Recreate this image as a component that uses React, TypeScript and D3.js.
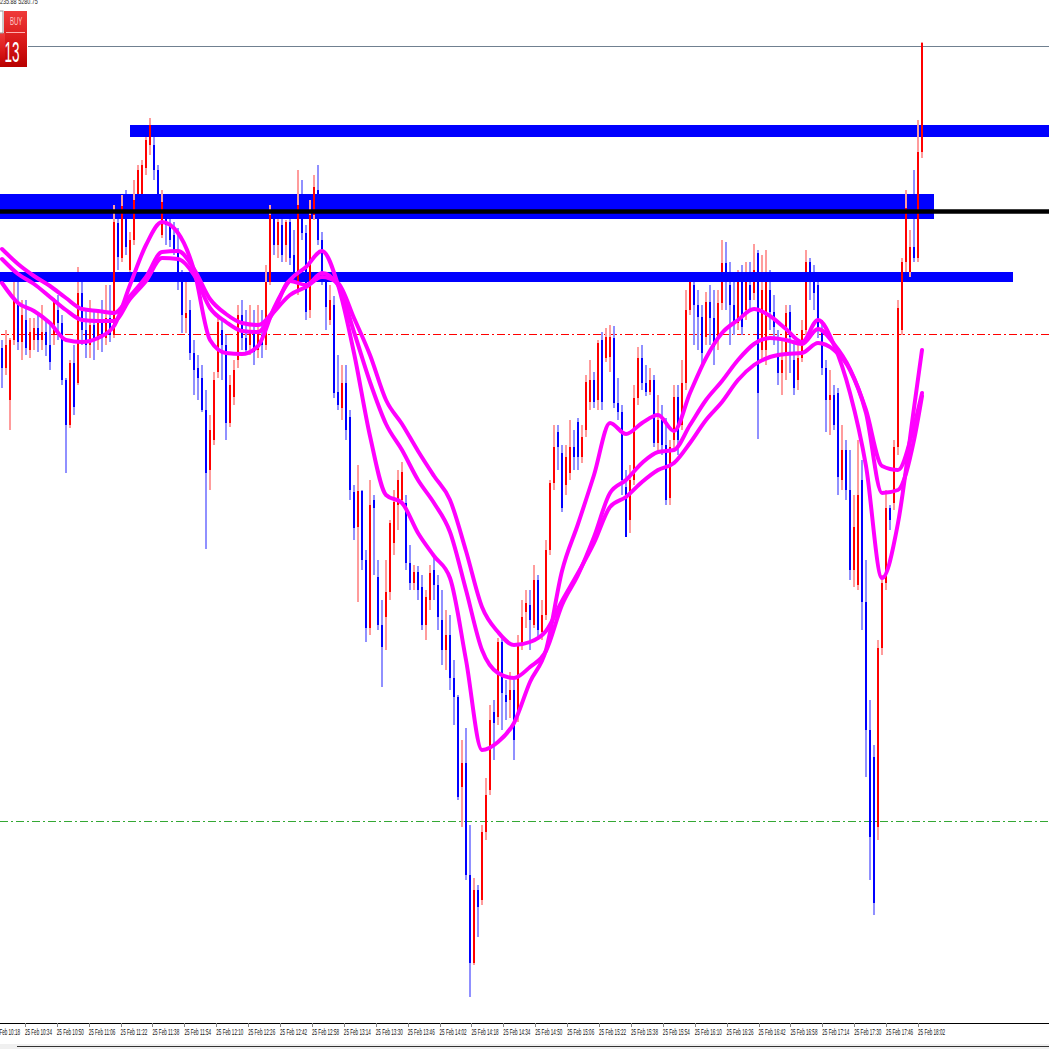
import React from "react";
import * as d3 from "d3";

const opens = [
348,368,400,340,305,342,320,350,340,328,340,332,345,335,310,323,380,425,363,383,
293,330,345,325,340,322,338,318,335,223,258,217,270,240,200,210,168,145,145,170,
235,205,225,235,250,280,318,310,353,368,378,410,470,440,372,330,345,423,397,360,
315,338,345,330,350,335,345,282,215,245,225,245,222,255,290,197,233,310,215,190,
240,280,320,305,392,408,383,417,492,527,491,560,628,500,577,625,617,592,543,505,
500,503,563,583,572,587,625,600,570,585,620,650,635,678,697,787,763,875,963,890,
900,832,790,712,717,642,695,700,690,717,643,612,605,625,580,632,615,550,483,432,
453,485,473,447,422,457,430,402,380,400,340,358,357,338,403,412,487,520,480,398,
358,383,392,380,443,420,445,498,440,397,425,383,310,285,305,317,337,302,318,340,
303,263,285,305,323,273,310,285,293,253,350,350,290,312,353,373,353,312,360,380,
358,330,262,280,285,330,368,400,395,393,480,450,490,570,585,480,602,730,757,827,
648,583,508,503,447,330,262,272,247,258,152];
const closes = [
368,345,340,300,342,315,348,332,328,340,332,345,362,300,323,380,425,363,407,293,
330,345,325,340,322,338,318,335,222,257,206,247,240,200,170,165,140,125,170,205,
202,225,240,250,280,315,313,353,370,378,410,473,430,380,322,345,423,385,370,315,
338,350,330,352,330,345,282,215,245,222,255,222,258,272,205,233,312,215,187,240,
280,307,300,393,405,383,430,490,528,491,560,628,505,508,625,647,592,523,502,480,
472,563,583,572,590,625,597,573,585,617,650,635,678,697,797,763,875,963,890,907,
832,795,720,723,642,693,702,690,740,643,617,603,620,580,630,615,550,483,447,447,
508,457,447,457,457,437,382,380,402,343,402,337,337,403,412,480,537,480,398,358,
383,392,380,443,420,445,500,447,397,440,383,310,277,305,317,353,302,318,347,303,
263,275,305,323,273,327,273,300,270,393,290,275,312,327,373,360,313,337,388,358,
330,262,280,293,330,368,400,395,425,477,450,490,570,527,495,602,730,837,903,648,
583,508,520,447,308,262,208,247,258,152,43];
const highs = [
340,330,338,282,282,300,300,318,318,312,305,318,325,298,295,315,378,360,345,267,
280,310,300,312,310,300,285,285,205,218,195,190,232,180,165,160,125,118,135,165,
190,195,218,222,228,270,273,300,340,355,365,390,415,372,318,320,335,375,360,305,
300,310,305,310,305,310,265,205,210,210,215,220,215,230,170,180,225,200,175,165,
232,275,285,296,355,365,365,410,485,465,490,550,480,495,560,600,560,520,490,470,
462,495,545,565,566,575,590,565,555,575,590,610,615,660,695,740,728,825,878,885,
825,778,705,700,638,635,680,672,680,635,600,590,590,565,575,600,540,480,425,425,
445,445,420,430,418,425,375,360,372,340,332,328,325,326,378,405,470,465,385,347,
345,365,368,375,395,405,418,440,385,385,360,290,272,275,290,305,292,285,290,290,
240,242,262,280,270,265,262,262,244,250,255,250,270,295,330,340,305,305,340,340,
320,250,258,265,280,320,360,370,385,388,425,440,450,495,440,460,560,700,745,640,
575,490,505,440,300,258,190,230,170,120,42];
const lows = [
388,375,430,345,350,360,355,358,350,352,350,356,370,345,340,385,473,428,415,385,
345,358,358,360,350,352,345,342,338,270,262,255,272,245,203,215,175,155,180,215,
238,245,247,255,290,333,333,360,395,400,412,549,490,445,378,380,440,427,405,368,
350,355,355,365,358,358,350,285,255,258,262,262,265,280,295,240,320,318,220,245,
285,330,325,398,410,420,440,500,540,602,570,642,635,575,630,687,650,600,555,530,
503,570,590,590,600,630,640,610,600,630,665,670,690,725,800,827,880,997,965,937,
905,840,795,760,725,730,720,718,760,722,650,628,650,628,640,640,620,555,490,470,
512,495,480,470,470,463,437,410,408,410,410,362,372,408,420,495,537,533,485,405,
390,396,395,447,450,455,505,505,450,455,430,390,315,345,350,365,345,345,365,350,
310,310,345,335,330,335,320,310,300,439,360,365,330,345,385,395,380,373,395,390,
362,335,300,310,338,375,432,435,430,495,490,500,580,587,590,630,777,880,915,840,
655,590,530,510,455,335,272,277,262,262,158];

const frontCandles = [28, 30, 33, 37, 40, 66, 67, 74, 77, 78, 224, 225, 226, 227, 229, 230];

// Moving averages, sampled every fourth bar plus the last bar.
const fastAverage = [
283,303,311,323,340,342,338,326,285,245,222,233,270,340,353,354,346,308,280,267,
251,285,353,436,495,503,533,556,578,660,750,742,723,682,650,571,524,475,423,434,
423,415,431,393,358,333,320,309,316,329,342,320,345,393,466,578,523,408,350];
const middleAverage = [
249,264,276,286,298,309,311,313,296,277,252,251,269,299,314,323,325,310,281,285,
273,285,332,382,424,450,480,503,532,590,650,673,678,667,651,605,575,537,493,480,
463,452,450,425,400,381,360,344,338,340,344,329,344,369,410,466,470,426,393];
const slowAverage = [
259,274,284,297,310,320,321,321,299,281,258,259,275,308,322,331,332,312,295,287,
277,283,318,355,400,424,451,476,500,551,607,632,645,642,631,601,573,543,507,497,
482,470,463,443,420,402,380,365,357,354,353,343,350,370,413,493,490,440,396];

const barCount = opens.length;
const averageBars = [...d3.range(0, barCount - 1, 4), barCount - 1];

const timeLabels = [
"10:18","10:34","10:50","11:06","11:22","11:38","11:54","12:10","12:26","12:42",
"12:58","13:14","13:30","13:46","14:02","14:18","14:34","14:50","15:06","15:22",
"15:38","15:54","16:10","16:26","16:42","16:58","17:14","17:30","17:46","18:02"];

const bandLevels = [131, 206.5, 277];
const bandThickness = [12, 25, 10];
const bandStart = [130, 0, 0];
const bandEnd = [1049, 934, 1013];
const blackLevel = 211.5;
const currentLevel = 46.5;
const redLevel = 334.5;
const greenLevel = 821.5;

const W = 1049;
const x = d3.scaleLinear().domain([0, barCount - 1]).range([2, 922]);
const y = d3.scaleLinear().domain([0, W]).range([0, W]);
const tickX = d3.scaleLinear().domain([0, timeLabels.length - 1]).range([-7, 918]);
const averageLine = d3.line<number>()
  .x((_, k) => x(averageBars[k]))
  .y((v) => y(v))
  .curve(d3.curveMonotoneX);

const SANS = "'Liberation Sans', sans-serif";

function Candle({ i }: { i: number }) {
  const up = closes[i] < opens[i];
  const cx = x(i);
  const top = y(Math.min(opens[i], closes[i]));
  const bottom = y(Math.max(opens[i], closes[i]));
  return (
    <g>
      <rect x={cx - 1} width={2} y={y(highs[i])} height={y(lows[i]) - y(highs[i])}
        fill={up ? "#ff9c9c" : "#9090ff"} />
      <rect x={cx - 1} width={2} y={top} height={Math.max(1, bottom - top)}
        fill={up ? "#ff0000" : "#0000ff"} />
    </g>
  );
}

export default function App() {
  const bars = d3.range(barCount);
  return (
    <svg width={W} height={W} viewBox={`0 0 ${W} ${W}`}
      style={{ position: "fixed", left: 0, top: 0, display: "block", background: "#fff" }}>
      <defs>
        <linearGradient id="buy" x1="0" y1="0" x2="0" y2="1">
          <stop offset="0" stopColor="#ef3a3a" />
          <stop offset="0.55" stopColor="#d81818" />
          <stop offset="1" stopColor="#b80000" />
        </linearGradient>
      </defs>

      <line x1={28} x2={W} y1={y(currentLevel)} y2={y(currentLevel)} stroke="#708090" strokeWidth={1} />
      <line x1={1} x2={W} y1={y(redLevel)} y2={y(redLevel)} stroke="#ff0000" strokeWidth={1} strokeDasharray="8 3 2 3" />
      <line x1={0} x2={W} y1={y(greenLevel)} y2={y(greenLevel)} stroke="#34a834" strokeWidth={1} strokeDasharray="8 3 2 3" />

      {bars.filter((i) => !frontCandles.includes(i)).map((i) => <Candle key={i} i={i} />)}

      {bandLevels.map((level, k) => (
        <rect key={k} x={bandStart[k]} width={bandEnd[k] - bandStart[k]}
          y={y(level) - bandThickness[k] / 2} height={bandThickness[k]} fill="#0000ff" />
      ))}

      {frontCandles.map((i) => <Candle key={i} i={i} />)}

      <line x1={0} x2={W} y1={y(blackLevel)} y2={y(blackLevel)} stroke="#000" strokeWidth={4.5} />

      {[fastAverage, middleAverage, slowAverage].map((s, k) => (
        <path key={k} d={averageLine(s) ?? ""} fill="none" stroke="#ff00ff" strokeWidth={4}
          strokeLinejoin="round" strokeLinecap="round" />
      ))}

      {/* header and order box */}
      <text transform="translate(-3,4) scale(0.68,1)" fontFamily={SANS} fontSize={8} fill="#222">5235.88 5280.75</text>
      <rect x={4} y={11} width={23} height={56} fill="url(#buy)" />
      <rect x={0} y={33} width={5} height={34} fill="url(#buy)" />
      <rect x={-1} y={11} width={4} height={22} fill="#fff" stroke="#999" strokeWidth={1} />
      <text transform="translate(10,25) scale(0.6,1)" fontFamily={SANS} fontSize={10} fill="#ffc8c8">BUY</text>
      <line x1={6} x2={25} y1={32.5} y2={32.5} stroke="#ffb0b0" strokeWidth={1} />
      <text transform="translate(4.5,62) scale(0.45,1)" fontFamily={SANS} fontSize={30} fill="#fff">13</text>

      {/* time axis */}
      <rect x={0} y={1044} width={W} height={5} fill="#f0f0f0" />
      <line x1={0} x2={W} y1={1023.5} y2={1023.5} stroke="#000" strokeWidth={1} />
      <line x1={17} x2={W} y1={1046.5} y2={1046.5} stroke="#333" strokeWidth={1} />
      {timeLabels.map((label, k) => (
        <g key={label}>
          <line x1={Math.round(tickX(k)) + 0.5} x2={Math.round(tickX(k)) + 0.5} y1={1023} y2={1027} stroke="#888" strokeWidth={1} />
          <text transform={`translate(${tickX(k)},1035) scale(0.54,1)`} fontFamily={SANS} fontSize={8.5} fill="#111">{`25 Feb ${label}`}</text>
        </g>
      ))}
    </svg>
  );
}
